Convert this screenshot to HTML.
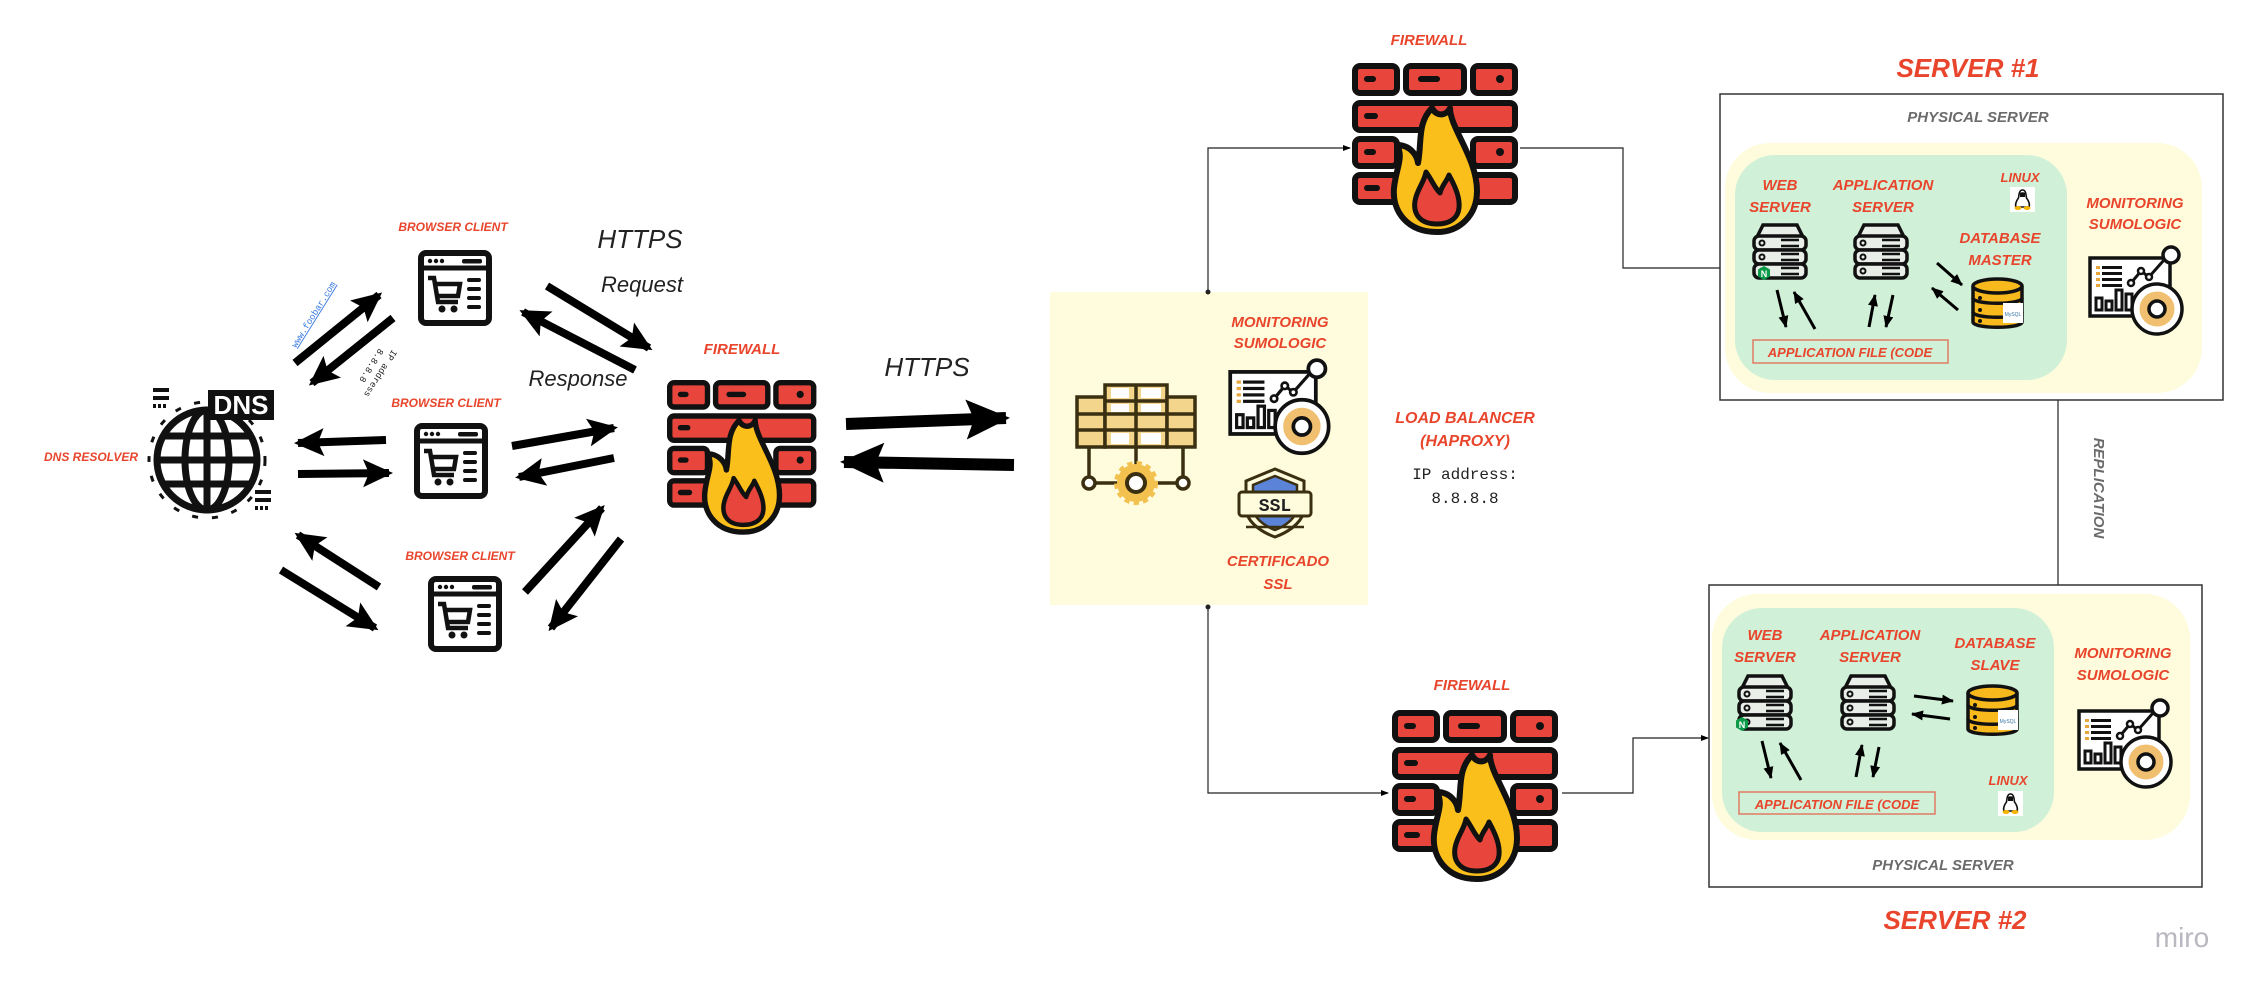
<!DOCTYPE html>
<html><head><meta charset="utf-8">
<style>
html,body{margin:0;padding:0;background:#fff;}
svg{display:block;}
.lbl{font-family:"Liberation Sans",sans-serif;font-weight:bold;font-style:italic;fill:#e8452c;text-anchor:middle;}
.gry{font-family:"Liberation Sans",sans-serif;font-weight:bold;font-style:italic;fill:#6b6b6b;text-anchor:middle;}
.hand{font-family:"Liberation Sans",sans-serif;font-style:italic;fill:#222;text-anchor:middle;}
.mono{font-family:"Liberation Mono",monospace;fill:#222;text-anchor:middle;}
</style></head>
<body>
<svg width="2259" height="995" viewBox="0 0 2259 995" xmlns="http://www.w3.org/2000/svg">
<defs>
<marker id="ah" markerUnits="userSpaceOnUse" markerWidth="30" markerHeight="28" refX="26" refY="14" orient="auto"><path d="M0,0 L30,14 L0,28 L6,14 Z" fill="#000"/></marker>
<marker id="ahb" markerUnits="userSpaceOnUse" markerWidth="44" markerHeight="40" refX="40" refY="20" orient="auto"><path d="M0,0 L44,20 L0,40 L8,20 Z" fill="#000"/></marker>
<marker id="ahs" markerUnits="userSpaceOnUse" markerWidth="12" markerHeight="10" refX="11" refY="5" orient="auto"><path d="M0,0 L12,5 L0,10 Z" fill="#000"/></marker>
<marker id="aht" markerUnits="userSpaceOnUse" markerWidth="8" markerHeight="6" refX="7" refY="3" orient="auto"><path d="M0,0 L8,3 L0,6 Z" fill="#000"/></marker>

<g id="fw">
 <g fill="#e8453c" stroke="#111" stroke-width="6">
  <rect x="3" y="3" width="42" height="27" rx="5"/><rect x="54" y="3" width="58" height="27" rx="5"/><rect x="121" y="3" width="42" height="27" rx="5"/>
  <rect x="3" y="40" width="160" height="27" rx="5"/>
  <rect x="3" y="76" width="42" height="27" rx="5"/><rect x="121" y="76" width="42" height="27" rx="5"/>
  <rect x="3" y="112" width="160" height="27" rx="5"/>
 </g>
 <g fill="#111"><rect x="12" y="13" width="12" height="6" rx="3"/><rect x="66" y="13" width="22" height="6" rx="3"/><circle cx="148" cy="16" r="4"/><rect x="12" y="50" width="14" height="6" rx="3"/><rect x="12" y="86" width="12" height="6" rx="3"/><circle cx="148" cy="89" r="4"/><rect x="12" y="122" width="16" height="6" rx="3"/></g>
 <path d="M85,169 C55,169 40,148 42,125 C44,105 52,95 45,82 C58,82 65,92 66,100 C70,80 65,60 80,45 C85,55 95,52 98,45 C98,65 125,95 125,128 C125,152 108,169 85,169 Z" fill="#fbbf1c" stroke="#111" stroke-width="6" stroke-linejoin="round"/>
 <path d="M85,161 C68,161 61,151 63,138 C65,126 72,120 74,109 C80,117 82,124 88,130 C90,122 95,118 97,112 C104,125 108,135 107,145 C106,155 98,161 85,161 Z" fill="#e8453c" stroke="#111" stroke-width="5" stroke-linejoin="round"/>
</g>

<g id="br">
 <rect x="3" y="3" width="68" height="70" rx="5" fill="#fff" stroke="#111" stroke-width="6"/>
 <line x1="3" y1="18" x2="71" y2="18" stroke="#111" stroke-width="5"/>
 <circle cx="12" cy="11" r="2.2" fill="#111"/><circle cx="18" cy="11" r="2.2" fill="#111"/><circle cx="24" cy="11" r="2.2" fill="#111"/>
 <rect x="44" y="9" width="20" height="4.5" rx="2" fill="#111"/>
 <path d="M10,28 L16,28 L20,52 L40,52 M17,34 L42,34 L40,46 L19,46" fill="none" stroke="#111" stroke-width="4.5"/>
 <circle cx="24" cy="59" r="3.5" fill="#111"/><circle cx="36" cy="59" r="3.5" fill="#111"/>
 <g fill="#111"><rect x="49" y="28" width="14" height="4" rx="2"/><rect x="49" y="37" width="14" height="4" rx="2"/><rect x="49" y="46" width="14" height="4" rx="2"/><rect x="49" y="55" width="14" height="4" rx="2"/></g>
</g>

<g id="srv">
 <path d="M6,15 L12,3 L46,3 L52,15" fill="#e9eee9" stroke="#111" stroke-width="3.5"/>
 <g fill="#e9eee9" stroke="#111" stroke-width="3.5">
  <rect x="3" y="14" width="52" height="14" rx="5"/><rect x="3" y="28" width="52" height="14" rx="5"/><rect x="3" y="42" width="52" height="14" rx="5"/>
 </g>
 <g fill="none" stroke="#111" stroke-width="2"><circle cx="11" cy="21" r="2.5"/><circle cx="11" cy="35" r="2.5"/><circle cx="11" cy="49" r="2.5"/></g>
 <g stroke="#111" stroke-width="2.5"><line x1="30" y1="18" x2="48" y2="18"/><line x1="30" y1="24" x2="48" y2="24"/><line x1="30" y1="32" x2="48" y2="32"/><line x1="30" y1="38" x2="48" y2="38"/><line x1="30" y1="46" x2="48" y2="46"/><line x1="30" y1="52" x2="48" y2="52"/></g>
</g>

<g id="db">
 <g fill="#f8b91c" stroke="#111" stroke-width="3.5">
  <path d="M3,36 L3,46 C3,53 52,53 52,46 L52,36"/>
  <path d="M3,22 L3,36 C3,43 52,43 52,36 L52,22"/>
  <path d="M3,10 L3,22 C3,29 52,29 52,22 L52,10"/>
  <ellipse cx="27.5" cy="10" rx="24.5" ry="7"/>
 </g>
 <g fill="#111"><circle cx="10" cy="22" r="2"/><circle cx="10" cy="34" r="2"/><circle cx="10" cy="45" r="2"/></g>
 <rect x="33" y="27" width="20" height="20" fill="#fff"/>
 <text x="43" y="40" font-family="Liberation Sans,sans-serif" font-size="5" fill="#3b78a8" text-anchor="middle">MySQL</text>
</g>

<g id="mon">
 <rect x="3" y="13" width="80" height="58" fill="#fff" stroke="#111" stroke-width="3.5"/>
 <g fill="#e8a53c"><rect x="9" y="21" width="4" height="3"/><rect x="9" y="27" width="4" height="3"/><rect x="9" y="33" width="4" height="3"/><rect x="9" y="39" width="4" height="3"/></g>
 <g fill="#111"><rect x="15" y="21" width="20" height="3"/><rect x="15" y="27" width="20" height="3"/><rect x="15" y="33" width="20" height="3"/><rect x="15" y="39" width="20" height="3"/></g>
 <polyline points="44,38 54,26 62,32 77,15" fill="none" stroke="#111" stroke-width="3"/>
 <circle cx="44" cy="38" r="3" fill="#fff" stroke="#111" stroke-width="2.5"/><circle cx="54" cy="26" r="3" fill="#fff" stroke="#111" stroke-width="2.5"/><circle cx="62" cy="32" r="3" fill="#fff" stroke="#111" stroke-width="2.5"/>
 <circle cx="84" cy="10" r="8" fill="#fff" stroke="#111" stroke-width="3.5"/>
 <g fill="none" stroke="#111" stroke-width="3"><rect x="9" y="53" width="6" height="12"/><rect x="19" y="56" width="6" height="9"/><rect x="29" y="45" width="6" height="20"/><rect x="39" y="49" width="6" height="16"/></g>
 <circle cx="70" cy="64" r="25" fill="#fff" stroke="#111" stroke-width="3.5"/>
 <circle cx="70" cy="64" r="13" fill="none" stroke="#f0c070" stroke-width="9"/>
 <circle cx="70" cy="64" r="8" fill="none" stroke="#111" stroke-width="3.5"/>
</g>

<g id="peng">
 <rect x="0" y="0" width="25" height="25" fill="#fff"/>
 <path d="M12.5,3 C9,3 9,8 8.5,11 C6,14 5,18 6,20 L19,20 C20,18 19,14 16.5,11 C16,8 16,3 12.5,3 Z" fill="#fff" stroke="#111" stroke-width="1.6"/>
 <path d="M10,6 C11,5 14,5 15,6 L15,10 L10,10 Z" fill="#111"/>
 <ellipse cx="8" cy="21" rx="3.5" ry="2" fill="#f5b400"/><ellipse cx="17" cy="21" rx="3.5" ry="2" fill="#f5b400"/>
</g>
</defs>

<!-- LEFT SECTION -->
<text class="lbl" x="91" y="461" font-size="12">DNS RESOLVER</text>
<!-- DNS globe -->
<g transform="translate(207,460)">
 <circle r="50" fill="none" stroke="#111" stroke-width="7"/>
 <ellipse rx="22" ry="50" fill="none" stroke="#111" stroke-width="7"/>
 <line x1="0" y1="-50" x2="0" y2="50" stroke="#111" stroke-width="7"/>
 <line x1="-50" y1="0" x2="50" y2="0" stroke="#111" stroke-width="7"/>
 <line x1="-44" y1="-24" x2="44" y2="-24" stroke="#111" stroke-width="7"/>
 <line x1="-44" y1="24" x2="44" y2="24" stroke="#111" stroke-width="7"/>
 <circle r="58" fill="none" stroke="#111" stroke-width="3" stroke-dasharray="6 14"/>
 <rect x="1" y="-70" width="66" height="30" fill="#111"/>
 <text x="34" y="-46" font-family="Liberation Sans,sans-serif" font-weight="bold" font-size="26" fill="#fff" text-anchor="middle">DNS</text>
 <g fill="#111"><rect x="-54" y="-72" width="16" height="4"/><rect x="-54" y="-64" width="16" height="4"/><rect x="-54" y="-56" width="3" height="4"/><rect x="-49" y="-56" width="3" height="4"/><rect x="-44" y="-56" width="3" height="4"/>
 <rect x="48" y="30" width="16" height="4"/><rect x="48" y="38" width="16" height="4"/><rect x="48" y="46" width="3" height="4"/><rect x="53" y="46" width="3" height="4"/><rect x="58" y="46" width="3" height="4"/></g>
</g>

<text class="lbl" x="453" y="231" font-size="12">BROWSER CLIENT</text>
<use href="#br" x="418" y="250"/>
<text class="lbl" x="446" y="407" font-size="12">BROWSER CLIENT</text>
<use href="#br" x="414" y="423"/>
<text class="lbl" x="460" y="560" font-size="12">BROWSER CLIENT</text>
<use href="#br" x="428" y="576"/>

<text x="316" y="316" transform="rotate(-58 316 316)" font-family="Liberation Mono,monospace" font-size="9" fill="#3b7be0" text-anchor="middle" text-decoration="underline">www.foobar.com</text>
<text x="378" y="372" transform="rotate(122 378 372)" font-family="Liberation Mono,monospace" font-size="9" fill="#222" text-anchor="middle">IP address</text>
<text x="369" y="364" transform="rotate(122 369 364)" font-family="Liberation Mono,monospace" font-size="9" fill="#222" text-anchor="middle">8.8.8.8</text>

<g stroke="#000" stroke-width="8" marker-end="url(#ah)">
 <line x1="295" y1="363" x2="379" y2="295"/>
 <line x1="393" y1="318" x2="312" y2="383"/>
 <line x1="547" y1="286" x2="649" y2="348"/>
 <line x1="635" y1="370" x2="523" y2="312"/>
 <line x1="386" y1="440" x2="298" y2="443"/>
 <line x1="298" y1="474" x2="389" y2="473"/>
 <line x1="512" y1="446" x2="614" y2="428"/>
 <line x1="614" y1="458" x2="519" y2="477"/>
 <line x1="379" y1="587" x2="298" y2="535"/>
 <line x1="281" y1="570" x2="375" y2="628"/>
 <line x1="525" y1="592" x2="602" y2="508"/>
 <line x1="621" y1="539" x2="551" y2="628"/>
</g>
<g stroke="#000" stroke-width="12" marker-end="url(#ahb)">
 <line x1="846" y1="424" x2="1006" y2="418"/>
 <line x1="1014" y1="465" x2="844" y2="462"/>
</g>

<text class="hand" x="640" y="248" font-size="26">HTTPS</text>
<text class="hand" x="642" y="292" font-size="22">Request</text>
<text class="hand" x="578" y="386" font-size="22">Response</text>
<text class="hand" x="927" y="376" font-size="26">HTTPS</text>

<text class="lbl" x="742" y="354" font-size="15">FIREWALL</text>
<use href="#fw" transform="translate(667,380) scale(0.9)"/>

<!-- LOAD BALANCER -->
<rect x="1050" y="292" width="318" height="313" fill="#fefcdc"/>
<g transform="translate(1075,383)">
 <g fill="#f3d68c" stroke="#3a2f10" stroke-width="3.5">
  <rect x="2" y="14" width="28" height="50"/><rect x="30" y="2" width="62" height="62"/><rect x="92" y="14" width="28" height="50"/>
 </g>
 <g stroke="#3a2f10" stroke-width="3.5"><line x1="2" y1="31" x2="120" y2="31"/><line x1="2" y1="47" x2="120" y2="47"/><line x1="30" y1="18" x2="92" y2="18"/><line x1="61" y1="2" x2="61" y2="64"/></g>
 <g fill="#fff"><rect x="36" y="5" width="18" height="10"/><rect x="66" y="5" width="20" height="10"/><rect x="36" y="21" width="18" height="8"/><rect x="66" y="21" width="20" height="8"/><rect x="36" y="50" width="18" height="11"/><rect x="66" y="50" width="20" height="11"/></g>
 <g stroke="#3a2f10" stroke-width="3.5" fill="none"><line x1="14" y1="64" x2="14" y2="100"/><line x1="61" y1="64" x2="61" y2="88"/><line x1="108" y1="64" x2="108" y2="100"/><line x1="20" y1="100" x2="102" y2="100"/></g>
 <circle cx="14" cy="100" r="6" fill="#fff" stroke="#3a2f10" stroke-width="3.5"/><circle cx="108" cy="100" r="6" fill="#fff" stroke="#3a2f10" stroke-width="3.5"/>
 <circle cx="61" cy="100" r="19" fill="#f3c14e" stroke="#f3c14e" stroke-width="6" stroke-dasharray="5 4"/>
 <circle cx="61" cy="100" r="9" fill="#fff" stroke="#3a2f10" stroke-width="4"/>
</g>
<text class="lbl" x="1280" y="327" font-size="15">MONITORING</text>
<text class="lbl" x="1280" y="348" font-size="15">SUMOLOGIC</text>
<use href="#mon" transform="translate(1227,358) scale(1.07)"/>
<g transform="translate(1238,467)">
 <path d="M37,2 L66,14 L66,45 C62,58 48,66 37,70 C26,66 12,58 8,45 L8,14 Z" fill="#fefcdc" stroke="#3a2f10" stroke-width="3"/>
 <path d="M37,9 L59,18 L59,44 C55,54 45,60 37,63 C29,60 19,54 15,44 L15,18 Z" fill="#5b84d8" stroke="#3a2f10" stroke-width="2.5"/>
 <rect x="1" y="25" width="72" height="24" rx="3" fill="#fefcdc" stroke="#3a2f10" stroke-width="3"/>
 <text x="37" y="44" font-family="Liberation Mono,monospace" font-weight="bold" font-size="18" fill="#222" text-anchor="middle">SSL</text>
 <line x1="8" y1="60" x2="66" y2="60" stroke="#3a2f10" stroke-width="2.5"/>
</g>
<text class="lbl" x="1278" y="566" font-size="15">CERTIFICADO</text>
<text class="lbl" x="1278" y="589" font-size="15">SSL</text>
<text class="lbl" x="1465" y="423" font-size="16">LOAD BALANCER</text>
<text class="lbl" x="1465" y="446" font-size="16">(HAPROXY)</text>
<text class="mono" x="1465" y="479" font-size="16">IP address:</text>
<text class="mono" x="1465" y="503" font-size="16">8.8.8.8</text>

<!-- connectors -->
<g fill="none" stroke="#222" stroke-width="1.2">
 <polyline points="1208,292 1208,148 1350,148" marker-end="url(#aht)"/>
 <polyline points="1520,148 1623,148 1623,268 1732,268" marker-end="url(#aht)"/>
 <polyline points="1208,607 1208,793 1388,793" marker-end="url(#aht)"/>
 <polyline points="1562,793 1633,793 1633,738 1708,738" marker-end="url(#aht)"/>
 <polyline points="2025,304 2058,304 2058,712 2021,712" marker-end="url(#aht)"/>
</g>
<circle cx="1208" cy="292" r="2.5" fill="#222"/><circle cx="1208" cy="607" r="2.5" fill="#222"/>

<text class="lbl" x="1429" y="45" font-size="15">FIREWALL</text>
<use href="#fw" x="1352" y="63"/>
<text class="lbl" x="1472" y="690" font-size="15">FIREWALL</text>
<use href="#fw" x="1392" y="710"/>

<!-- SERVER 1 -->
<text class="lbl" x="1968" y="77" font-size="26">SERVER #1</text>
<rect x="1720" y="94" width="503" height="306" fill="#fff" stroke="#333" stroke-width="1.5"/>
<text class="gry" x="1978" y="122" font-size="15">PHYSICAL SERVER</text>
<rect x="1725" y="143" width="477" height="250" rx="45" fill="#fefcdc"/>
<rect x="1735" y="155" width="332" height="225" rx="40" fill="#d0f0d8"/>
<text class="lbl" x="1780" y="190" font-size="15">WEB</text>
<text class="lbl" x="1780" y="212" font-size="15">SERVER</text>
<text class="lbl" x="1883" y="190" font-size="15">APPLICATION</text>
<text class="lbl" x="1883" y="212" font-size="15">SERVER</text>
<text class="lbl" x="2020" y="182" font-size="13">LINUX</text>
<use href="#peng" x="2010" y="187"/>
<text class="lbl" x="2000" y="243" font-size="15">DATABASE</text>
<text class="lbl" x="2000" y="265" font-size="15">MASTER</text>
<text class="lbl" x="2135" y="208" font-size="15">MONITORING</text>
<text class="lbl" x="2135" y="229" font-size="15">SUMOLOGIC</text>
<use href="#srv" x="1751" y="222"/>
<g transform="translate(1758,266)"><path d="M6,0 L12,3.5 L12,10.5 L6,14 L0,10.5 L0,3.5 Z" fill="#0a9a48"/><text x="6" y="11" font-family="Liberation Sans,sans-serif" font-weight="bold" font-size="9" fill="#fff" text-anchor="middle">N</text></g>
<use href="#srv" x="1852" y="222"/>
<use href="#db" x="1970" y="276"/>
<use href="#mon" x="2087" y="245"/>
<rect x="1753" y="340" width="195" height="23" fill="none" stroke="#e07a62" stroke-width="1.5"/>
<text class="lbl" x="1850" y="357" font-size="13">APPLICATION FILE (CODE</text>
<g stroke="#000" stroke-width="3" marker-end="url(#ahs)">
 <line x1="1777" y1="290" x2="1786" y2="327"/><line x1="1815" y1="329" x2="1794" y2="292"/>
 <line x1="1869" y1="327" x2="1875" y2="295"/><line x1="1893" y1="295" x2="1886" y2="327"/>
 <line x1="1937" y1="263" x2="1962" y2="285"/><line x1="1958" y1="310" x2="1932" y2="288"/>
</g>

<text x="2094" y="488" transform="rotate(90 2094 488)" class="gry" font-size="15">REPLICATION</text>

<!-- SERVER 2 -->
<rect x="1709" y="585" width="493" height="302" fill="#fff" stroke="#333" stroke-width="1.5"/>
<rect x="1712" y="594" width="478" height="246" rx="45" fill="#fefcdc"/>
<rect x="1722" y="608" width="332" height="224" rx="40" fill="#d0f0d8"/>
<text class="lbl" x="1765" y="640" font-size="15">WEB</text>
<text class="lbl" x="1765" y="662" font-size="15">SERVER</text>
<text class="lbl" x="1870" y="640" font-size="15">APPLICATION</text>
<text class="lbl" x="1870" y="662" font-size="15">SERVER</text>
<text class="lbl" x="1995" y="648" font-size="15">DATABASE</text>
<text class="lbl" x="1995" y="670" font-size="15">SLAVE</text>
<text class="lbl" x="2123" y="658" font-size="15">MONITORING</text>
<text class="lbl" x="2123" y="680" font-size="15">SUMOLOGIC</text>
<text class="lbl" x="2008" y="785" font-size="13">LINUX</text>
<use href="#peng" x="1998" y="791"/>
<use href="#srv" x="1736" y="673"/>
<g transform="translate(1736,717)"><path d="M6,0 L12,3.5 L12,10.5 L6,14 L0,10.5 L0,3.5 Z" fill="#0a9a48"/><text x="6" y="11" font-family="Liberation Sans,sans-serif" font-weight="bold" font-size="9" fill="#fff" text-anchor="middle">N</text></g>
<use href="#srv" x="1839" y="673"/>
<use href="#db" x="1965" y="683"/>
<use href="#mon" x="2076" y="698"/>
<rect x="1739" y="792" width="196" height="22" fill="none" stroke="#e07a62" stroke-width="1.5"/>
<text class="lbl" x="1837" y="809" font-size="13">APPLICATION FILE (CODE</text>
<g stroke="#000" stroke-width="3" marker-end="url(#ahs)">
 <line x1="1762" y1="741" x2="1771" y2="778"/><line x1="1801" y1="780" x2="1780" y2="743"/>
 <line x1="1856" y1="777" x2="1862" y2="745"/><line x1="1879" y1="747" x2="1873" y2="777"/>
 <line x1="1914" y1="696" x2="1953" y2="701"/><line x1="1950" y1="719" x2="1912" y2="714"/>
</g>
<text class="gry" x="1943" y="870" font-size="15">PHYSICAL SERVER</text>
<text class="lbl" x="1955" y="929" font-size="26">SERVER #2</text>

<text x="2182" y="947" font-family="Liberation Sans,sans-serif" font-size="28" fill="#b8b8c0" text-anchor="middle">miro</text>
</svg>
</body></html>
